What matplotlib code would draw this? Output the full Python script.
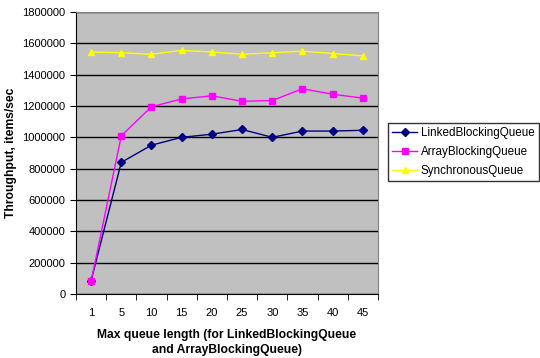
import matplotlib
matplotlib.use("Agg")
import matplotlib.pyplot as plt
import numpy as np

plt.rcParams['font.family'] = ['Liberation Sans', 'DejaVu Sans']

queue_len = ['1', '5', '10', '15', '20', '25', '30', '35', '40', '45']
linked = [85000, 840000, 950000, 1000000, 1020000, 1050000, 1000000, 1040000, 1040000, 1045000]
array = [80000, 1010000, 1195000, 1245000, 1265000, 1230000, 1235000, 1310000, 1275000, 1250000]
sync = [1545000, 1540000, 1530000, 1555000, 1545000, 1530000, 1540000, 1550000, 1535000, 1520000]

fig = plt.figure(figsize=(5.4, 3.58), dpi=100)
ax = fig.add_axes([0.1407, 0.1788, 0.5593, 0.7877])
ax.set_facecolor('#C0C0C0')

x = np.arange(len(queue_len))
ax.plot(x, linked, color='#000080', marker='D', markersize=4, lw=1, label='LinkedBlockingQueue')
ax.plot(x, array, color='#FF00FF', marker='s', markersize=5, lw=1, label='ArrayBlockingQueue')
ax.plot(x, sync, color='#FFFF00', marker='^', markersize=5, lw=1, label='SynchronousQueue')

ax.set_xlim(-0.5, len(queue_len) - 0.5)
ax.set_ylim(0, 1800000)
ax.set_yticks(np.arange(0, 1800001, 200000))
ax.set_yticklabels([str(v) for v in range(0, 1800001, 200000)], fontsize=8)
ax.yaxis.grid(True, color='black', lw=1)
ax.set_axisbelow(True)

ax.set_xticks(x)
ax.set_xticklabels(queue_len, fontsize=8)
ax.tick_params(axis='x', length=0, pad=10)
ax.set_xticks(np.arange(-0.5, len(queue_len)), minor=True)
ax.tick_params(axis='x', which='minor', length=4, direction='out')
ax.tick_params(axis='y', length=4, direction='out')

for side in ['top', 'right']:
    ax.spines[side].set_color('#808080')
ax.spines['left'].set_color('black')
ax.spines['bottom'].set_color('black')

ax.set_xlabel('Max queue length (for LinkedBlockingQueue\nand ArrayBlockingQueue)',
              fontsize=8.7, fontweight='bold', labelpad=8, linespacing=1.3)
ax.set_ylabel('Throughput, items/sec', fontsize=8.7, fontweight='bold', labelpad=4)

leg = fig.legend(loc='upper left', bbox_to_anchor=(0.718, 0.657), fontsize=8.4,
                 frameon=True, fancybox=False, borderpad=0.35, handlelength=2.2,
                 labelspacing=0.62, handletextpad=0.3, borderaxespad=0)
leg.get_frame().set_edgecolor('black')
leg.get_frame().set_linewidth(1)

fig.savefig('out.png', dpi=100)
